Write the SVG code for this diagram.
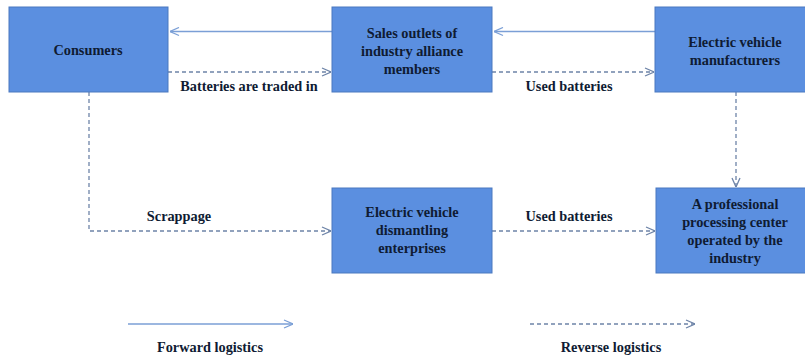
<svg xmlns="http://www.w3.org/2000/svg" width="805" height="357" viewBox="0 0 805 357">
  <style>
    .box { fill: #5b8fe0; stroke: #4a78bf; stroke-width: 1; }
    .lbl { font-family: "Liberation Serif", "Times New Roman", serif; font-weight: bold; font-size: 14.3px; fill: #0f1b33; text-anchor: middle; }
    .fwd { stroke: #7b9fd6; stroke-width: 1.3; fill: none; marker-end: url(#headF); }
    .rev { stroke: #6e84a8; stroke-width: 1.3; fill: none; stroke-dasharray: 4 3; marker-end: url(#headR); }
  </style>
  <defs>
    <marker id="headF" viewBox="0 0 10 10" refX="10" refY="5" markerWidth="10" markerHeight="10" markerUnits="userSpaceOnUse" orient="auto">
      <path d="M1,1 L10,5 L1,9" fill="none" stroke="#7b9fd6" stroke-width="1.3"/>
    </marker>
    <marker id="headR" viewBox="0 0 10 10" refX="10" refY="5" markerWidth="10" markerHeight="10" markerUnits="userSpaceOnUse" orient="auto">
      <path d="M1,1 L10,5 L1,9" fill="none" stroke="#6e84a8" stroke-width="1.3"/>
    </marker>
  </defs>
  <rect width="805" height="357" fill="#ffffff"/>

  <g id="connectors">
    <line class="fwd" x1="332" y1="31.5" x2="170" y2="31.5"/>
    <line class="fwd" x1="655" y1="31.5" x2="494" y2="31.5"/>
    <line class="rev" x1="168" y1="72" x2="331" y2="72"/>
    <line class="rev" x1="492" y1="72" x2="654" y2="72"/>
    <polyline class="rev" points="89,92 89,231 331,231"/>
    <line class="rev" x1="492" y1="231" x2="655" y2="231"/>
    <line class="rev" x1="736" y1="92" x2="736" y2="187"/>
    <text class="lbl" x="249" y="91">Batteries are traded in</text>
    <text class="lbl" x="569" y="91">Used batteries</text>
    <text class="lbl" x="179" y="221">Scrappage</text>
    <text class="lbl" x="569" y="221">Used batteries</text>
  </g>

  <g id="consumers">
    <rect class="box" x="9" y="7" width="159" height="85"/>
    <text class="lbl" x="88" y="55">Consumers</text>
  </g>

  <g id="sales-outlets">
    <rect class="box" x="332" y="7" width="160" height="85"/>
    <text class="lbl" x="412" y="38">Sales outlets of</text>
    <text class="lbl" x="412" y="56">industry alliance</text>
    <text class="lbl" x="412" y="74">members</text>
  </g>

  <g id="ev-manufacturers">
    <rect class="box" x="655" y="7" width="160" height="85"/>
    <text class="lbl" x="735" y="47">Electric vehicle</text>
    <text class="lbl" x="735" y="65">manufacturers</text>
  </g>

  <g id="dismantling">
    <rect class="box" x="332" y="188" width="160" height="85"/>
    <text class="lbl" x="412" y="217">Electric vehicle</text>
    <text class="lbl" x="412" y="235">dismantling</text>
    <text class="lbl" x="412" y="253">enterprises</text>
  </g>

  <g id="processing-center">
    <rect class="box" x="656" y="188" width="160" height="85"/>
    <text class="lbl" x="735" y="209">A professional</text>
    <text class="lbl" x="735" y="227">processing center</text>
    <text class="lbl" x="735" y="245">operated by the</text>
    <text class="lbl" x="735" y="263">industry</text>
  </g>

  <g id="legend">
    <line class="fwd" x1="128" y1="324" x2="293" y2="324"/>
    <text class="lbl" x="210" y="352">Forward logistics</text>
    <line class="rev" x1="530" y1="324" x2="695" y2="324"/>
    <text class="lbl" x="611" y="352">Reverse logistics</text>
  </g>
</svg>
